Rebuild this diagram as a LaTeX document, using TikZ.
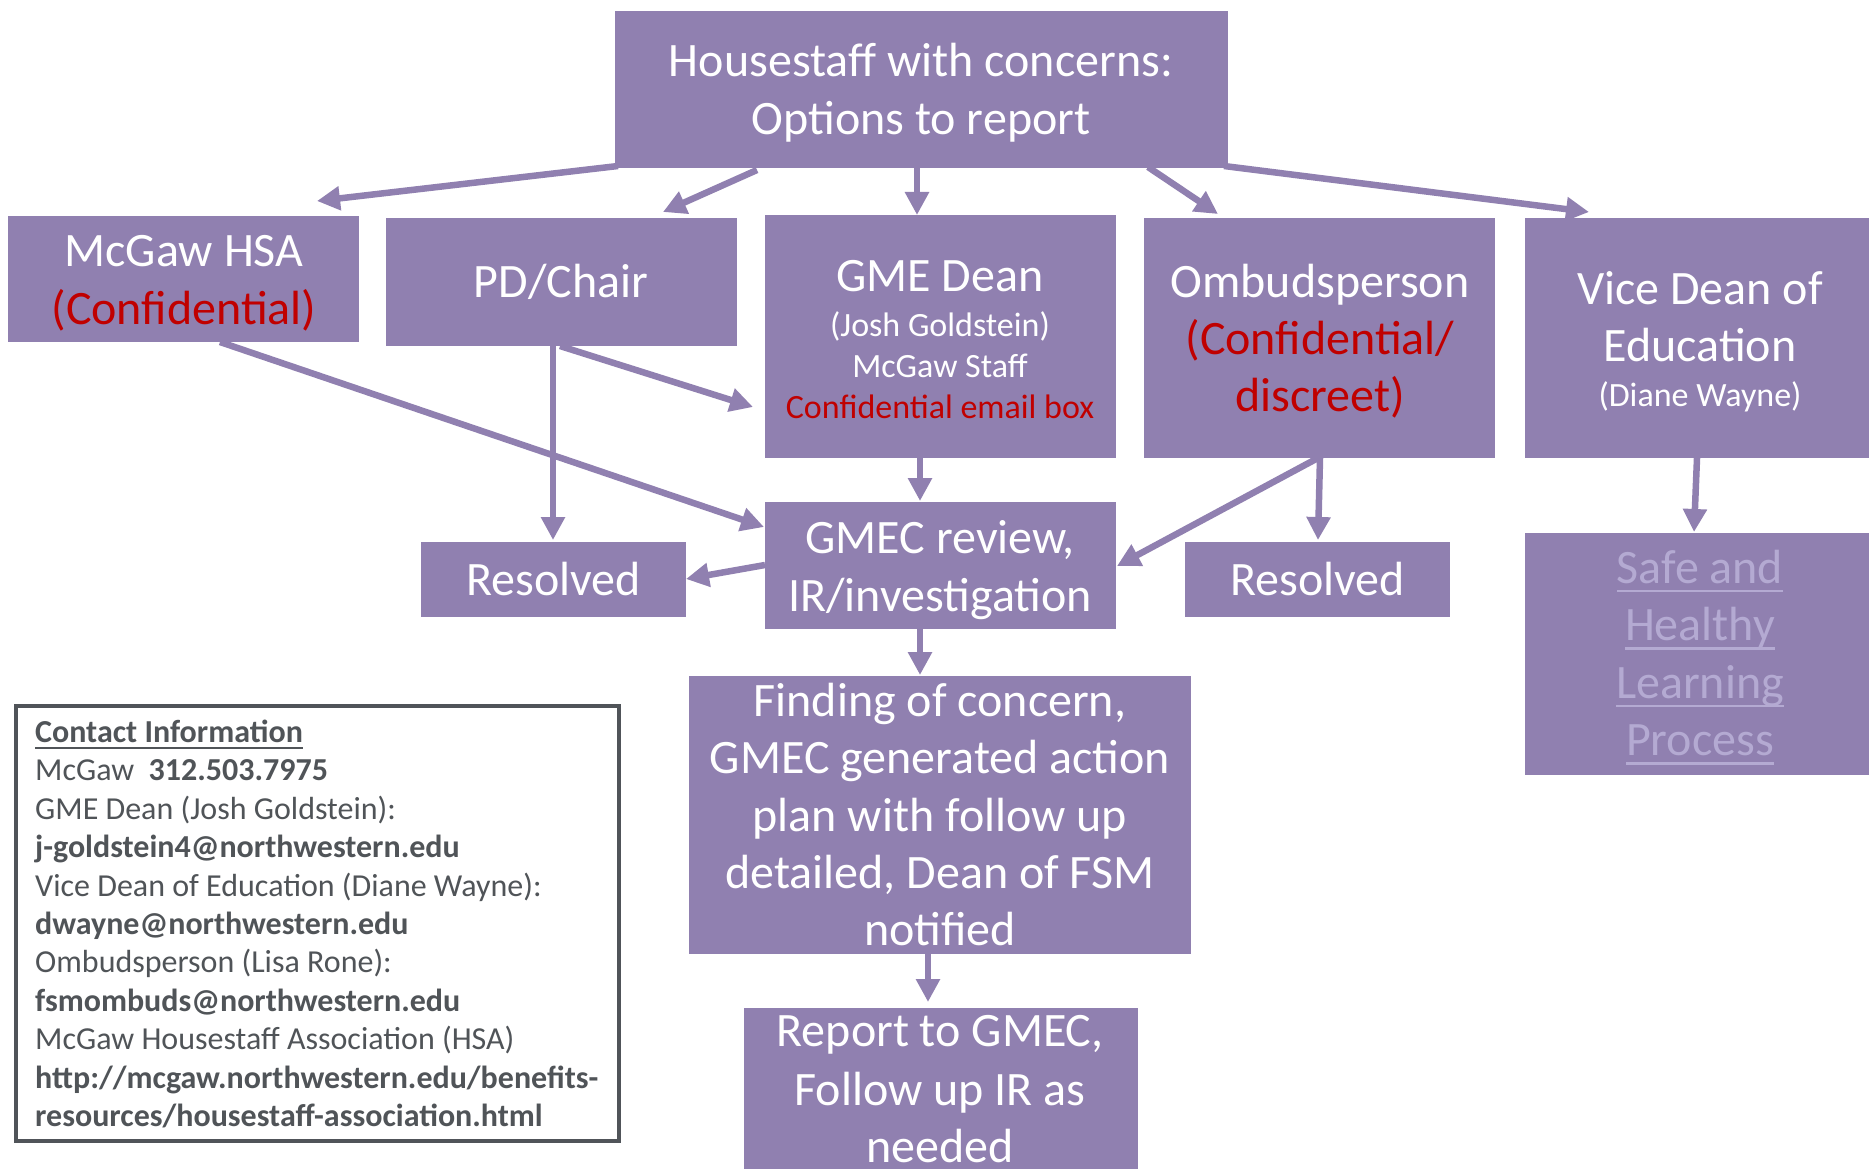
\documentclass[tikz,border=0pt]{standalone}
\usepackage{fontspec}
\setmainfont{Carlito}
\usetikzlibrary{arrows.meta,calc}
\definecolor{boxpurple}{RGB}{144,128,176}
\definecolor{confred}{RGB}{192,0,0}
\definecolor{linklav}{RGB}{180,170,210}
\definecolor{infogray}{RGB}{80,84,88}
\definecolor{framegray}{RGB}{80,84,89}
\newcommand\linkul[1]{\setbox0\hbox{#1}\rlap{\rule[-9pt]{\wd0}{2.5pt}}\box0}
\newcommand\infoul[1]{\setbox0\hbox{#1}\rlap{\rule[-6pt]{\wd0}{2pt}}\box0}
\begin{document}
\begin{tikzpicture}[x=1pt,y=-1pt,
  pbox/.style={fill=boxpurple,inner sep=0pt,outer sep=0pt},
  bigtxt/.style={font=\fontsize{48}{58}\selectfont,text=white,anchor=base,inner sep=0pt},
  smalltxt/.style={font=\fontsize{34}{41}\selectfont,text=white,anchor=base,inner sep=0pt},
  linktxt/.style={font=\fontsize{48}{58}\selectfont,text=linklav,anchor=base,inner sep=0pt},
  infotxt/.style={font=\fontsize{32}{38.4}\selectfont,text=infogray,anchor=base west,inner sep=0pt},
  flow/.style={draw=boxpurple,line width=6.5pt,-{Triangle[length=23pt,width=23pt]}}]
\fill[white] (0,0) rectangle (1869,1169);
\clip (0,0) rectangle (1869,1169);

% boxes
\node[pbox,minimum width=613pt,minimum height=157pt] (top) at (921.5,89.5) {};
\node[pbox,minimum width=351pt,minimum height=126pt] (hsa) at (183.5,279) {};
\node[pbox,minimum width=351pt,minimum height=128pt] (pd) at (561.5,282) {};
\node[pbox,minimum width=351pt,minimum height=243pt] (gme) at (940.5,336.5) {};
\node[pbox,minimum width=351pt,minimum height=240pt] (omb) at (1319.5,338) {};
\node[pbox,minimum width=351pt,minimum height=240pt] (vice) at (1700.5,338) {};
\node[pbox,minimum width=351pt,minimum height=127pt] (gmec) at (940.5,565.5) {};
\node[pbox,minimum width=265pt,minimum height=75pt] (resL) at (553.5,579.5) {};
\node[pbox,minimum width=265pt,minimum height=75pt] (resR) at (1317.5,579.5) {};
\node[pbox,minimum width=351pt,minimum height=242pt] (safe) at (1700.5,654) {};
\node[pbox,minimum width=502pt,minimum height=278pt] (find) at (940,815) {};
\node[pbox,minimum width=394pt,minimum height=168pt] (report) at (941,1092) {};
\node[draw=framegray,line width=4.5pt,inner sep=0pt,minimum width=603pt,minimum height=435pt] (contact) at (317.5,923.5) {};

% texts
\node[bigtxt] (topA) at (921,76.5) {Housestaff with concerns:};
\node[bigtxt] (topB) at (921,134.5) {Options to report};
\node[bigtxt] (hsaA) at (184,266) {McGaw HSA};
\node[bigtxt] (hsaB) at (184,324.5) {\textcolor{confred}{(Confidential)}};
\node[bigtxt] (pdA) at (561,298) {PD/Chair};
\node[bigtxt] (gmeA) at (940,291) {GME Dean};
\node[smalltxt] (gmeB) at (940,336) {(Josh Goldstein)};
\node[smalltxt] (gmeC) at (940,377) {McGaw Staff};
\node[smalltxt] (gmeD) at (940,418) {\textcolor{confred}{Confidential email box}};
\node[bigtxt] (ombA) at (1320,297) {Ombudsperson};
\node[bigtxt] (ombB) at (1320,354.5) {\textcolor{confred}{(Confidential/}};
\node[bigtxt] (ombC) at (1320,411.5) {\textcolor{confred}{discreet)}};
\node[bigtxt] (viceA) at (1700,304) {Vice Dean of};
\node[bigtxt] (viceB) at (1700,361.5) {Education};
\node[smalltxt] (viceC) at (1700,406.5) {(Diane Wayne)};
\node[bigtxt] (gmecA) at (940,553.5) {GMEC review,};
\node[bigtxt] (gmecB) at (940,611.5) {IR/investigation};
\node[bigtxt] (resLA) at (553.5,595) {Resolved};
\node[bigtxt] (resRA) at (1317.5,595) {Resolved};
\node[linktxt] (safeA) at (1700,583) {\linkul{Safe and}};
\node[linktxt] (safeB) at (1700,640.5) {\linkul{Healthy}};
\node[linktxt] (safeC) at (1700,698) {\linkul{Learning}};
\node[linktxt] (safeD) at (1700,755.5) {\linkul{Process}};
\node[bigtxt] (findA) at (940,716.5) {Finding of concern,};
\node[bigtxt] (findB) at (940,773.5) {GMEC generated action};
\node[bigtxt] (findC) at (940,831) {plan with follow up};
\node[bigtxt] (findD) at (940,888.5) {detailed, Dean of FSM};
\node[bigtxt] (findE) at (940,945.5) {notified};
\node[bigtxt] (repA) at (940,1046.5) {Report to GMEC,};
\node[bigtxt] (repB) at (940,1105) {Follow up IR as};
\node[bigtxt] (repC) at (940,1162.5) {needed};

\node[infotxt] (c1) at (35,742.5) {\infoul{\textbf{Contact Information}}};
\node[infotxt] (c2) at (35,780.9) {McGaw\ \ \textbf{312.503.7975}};
\node[infotxt] (c3) at (35,819.3) {GME Dean (Josh Goldstein):};
\node[infotxt] (c4) at (35,857.7) {\textbf{j-goldstein4@northwestern.edu}};
\node[infotxt] (c5) at (35,896.1) {Vice Dean of Education (Diane Wayne):};
\node[infotxt] (c6) at (35,934.5) {\textbf{dwayne@northwestern.edu}};
\node[infotxt] (c7) at (35,972.9) {Ombudsperson (Lisa Rone):};
\node[infotxt] (c8) at (35,1011.3) {\textbf{fsmombuds@northwestern.edu}};
\node[infotxt] (c9) at (35,1049.7) {McGaw Housestaff Association (HSA)};
\node[infotxt] (c10) at (35,1088.1) {\textbf{http://mcgaw.northwestern.edu/benefits-}};
\node[infotxt] (c11) at (35,1126.5) {\textbf{resources/housestaff-association.html}};

% connectors
\draw[flow] ($(top.south west)+(3,-2)$) -- ($(hsa.north west)+(309,-15)$);
\draw[flow] ($(top.south west)+(142,2)$) -- ($(pd.north west)+(277,-6)$);
\draw[flow] ($(top.south west)+(302,0)$) -- ($(gme.north west)+(152,0)$);
\draw[flow] ($(top.south west)+(533,-1)$) -- ($(omb.north west)+(74,-4)$);
\draw[flow] ($(top.south east)+(-4,-2)$) -- ($(vice.north west)+(64,-6)$);
\draw[flow] ($(hsa.south west)+(212,0)$) -- ($(gmec.north west)+(-1,25)$);
\draw[flow] ($(pd.south west)+(167,0)$) -- ($(resL.north west)+(132,-2)$);
\draw[flow] ($(pd.south west)+(174,0)$) -- ($(gme.north west)+(-12,192)$);
\draw[flow] ($(gme.south west)+(155,0)$) -- ($(gmec.north west)+(155,-1)$);
\draw[flow] ($(gmec.north west)+(0,63)$) -- ($(resL.north east)+(0,37)$);
\draw[flow] ($(omb.south west)+(174,0)$) -- ($(gmec.north east)+(1,64)$);
\draw[flow] ($(omb.south west)+(176,0)$) -- ($(resR.north west)+(133,-2)$);
\draw[flow] ($(vice.south west)+(172,0)$) -- ($(safe.north west)+(169,-1)$);
\draw[flow] ($(gmec.south west)+(155,0)$) -- ($(find.north west)+(231,-1)$);
\draw[flow] ($(find.south west)+(239,0)$) -- ($(report.north west)+(184,-6)$);
\end{tikzpicture}
\end{document}
